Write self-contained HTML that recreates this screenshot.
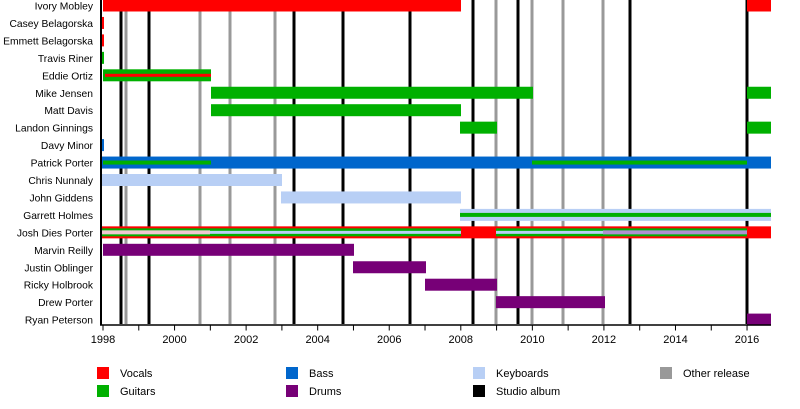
<!DOCTYPE html>
<html><head><meta charset="utf-8"><style>body{margin:0;background:#fff}</style></head><body>
<svg width="800" height="404" xmlns="http://www.w3.org/2000/svg" font-family="Liberation Sans, sans-serif" font-size="11">
<script>
const NS="http://www.w3.org/2000/svg",svg=document.querySelector('svg');
function r(x1,x2,y,h,c){const e=document.createElementNS(NS,'rect');e.setAttribute('x',x1);e.setAttribute('width',x2-x1);e.setAttribute('y',y-h/2);e.setAttribute('height',h);e.setAttribute('fill',c);svg.appendChild(e);}
function t(x,y,s,a,fs){const e=document.createElementNS(NS,'text');e.setAttribute('x',x);e.setAttribute('y',y);if(a)e.setAttribute('text-anchor',a);if(fs)e.setAttribute('font-size',fs);e.setAttribute('fill','#000');e.textContent=s;svg.appendChild(e);}
const R='#ff0000',G='#00b000',B='#0066cc',L='#b8cff5',P='#770077';
const cy=i=>5.5+i*17.45;
const names=["Ivory Mobley","Casey Belagorska","Emmett Belagorska","Travis Riner","Eddie Ortiz","Mike Jensen","Matt Davis","Landon Ginnings","Davy Minor","Patrick Porter","Chris Nunnaly","John Giddens","Garrett Holmes","Josh Dies Porter","Marvin Reilly","Justin Oblinger","Ricky Holbrook","Drew Porter","Ryan Peterson"];
names.forEach((n,i)=>t(93,cy(i)+4,n,'end',10.3));
[126,200,230,275,496,532,563,603].forEach(x=>r(x-1.5,x+1.5,162,324,'#999'));
[121,149,294,343,410,473,518,630,747].forEach(x=>r(x-1.5,x+1.5,162,324,'#000'));
const H=12;
r(103,461,cy(0),H,R);r(747,771,cy(0),H,R);
r(101,104,cy(1),H,R);r(101,104,cy(2),H,R);r(101,104,cy(3),H,G);
r(103,211,cy(4),H,G);r(105,211,cy(4),3,R);
r(211,533,cy(5),H,G);r(747,771,cy(5),H,G);
r(211,461,cy(6),H,G);
r(460,497,cy(7),H,G);r(747,771,cy(7),H,G);
r(101,104,cy(8),H,B);
r(101,771,cy(9),H,B);r(103,211,cy(9),4,G);r(532,747,cy(9),4,G);
r(101,282,cy(10),H,L);r(281,461,cy(11),H,L);
r(460,771,cy(12),H,L);r(460,771,cy(12),4,G);
r(101,771,cy(13),H,R);r(101,461,cy(13),8,G);r(496,747,cy(13),8,G);
r(101,210,cy(13),4,'#f0c8d0');r(210,461,cy(13),3,L);r(496,603,cy(13),3,L);r(603,747,cy(13),4,'#b090d0');
r(103,354,cy(14),H,P);r(353,426,cy(15),H,P);r(425,497,cy(16),H,P);r(496,605,cy(17),H,P);r(747,771,cy(18),H,P);
r(100,102,162,326,'#000');r(100,771,325,1.5,'#000');
for(let y=1998;y<=2016;y++){const x=103+(y-1998)*35.78;r(x-0.5,x+0.5,328,5,'#000');if(y%2==0)t(x,343,y,'middle');}
[[97,367,R,'Vocals'],[97,385,G,'Guitars'],[286,367,B,'Bass'],[286,385,P,'Drums'],[473,367,L,'Keyboards'],[473,385,'#000','Studio album'],[660,367,'#999','Other release']].forEach(([x,y,c,s])=>{r(x,x+12,y+6,12,c);t(x+23,y+10,s);});
</script>
</svg>
</body></html>
